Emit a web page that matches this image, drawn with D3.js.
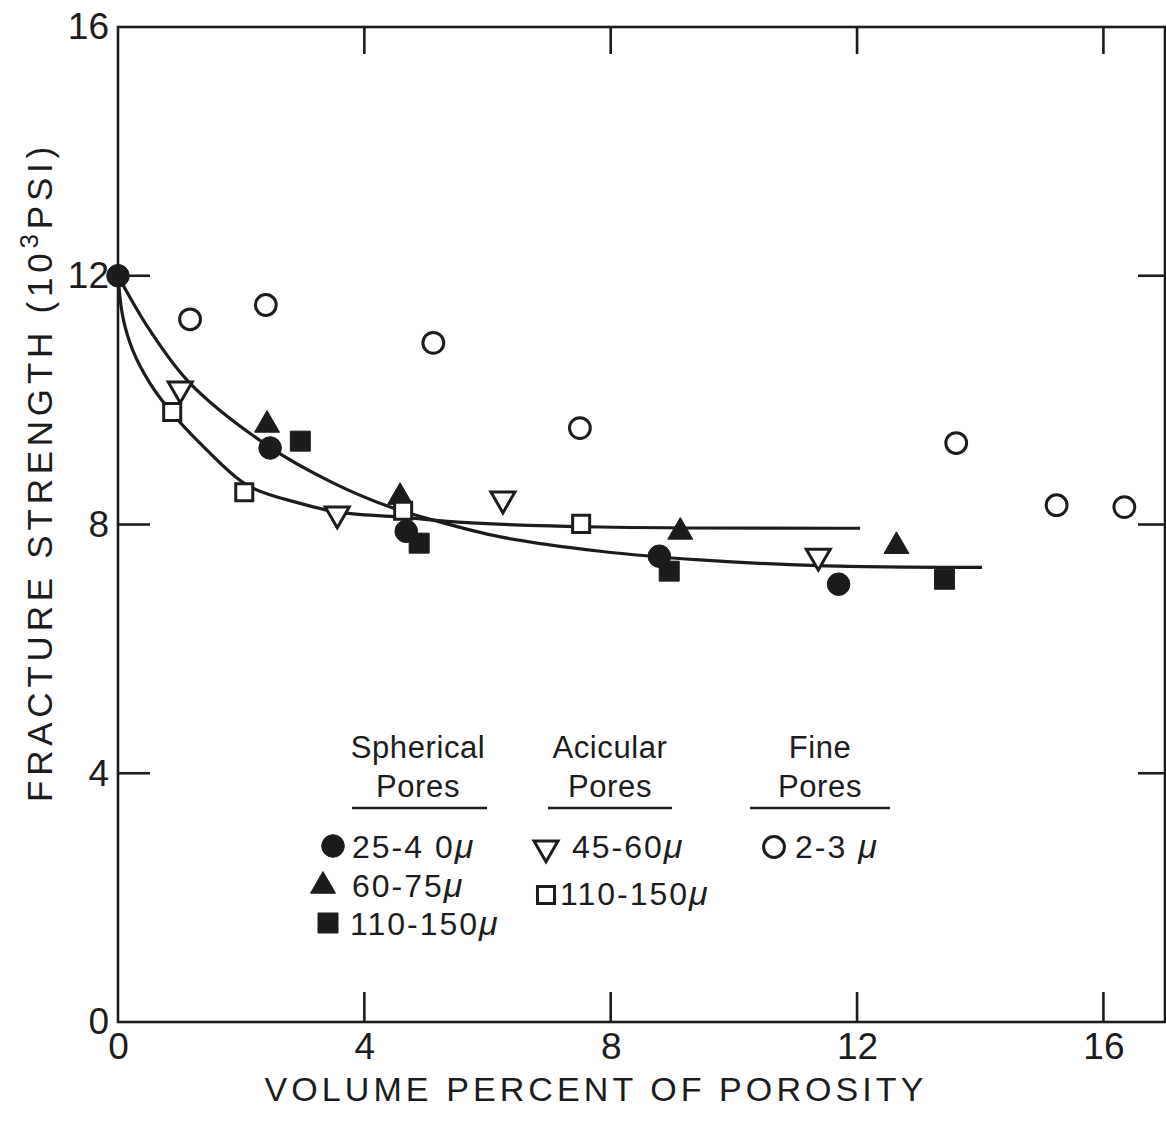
<!DOCTYPE html>
<html>
<head>
<meta charset="utf-8">
<script src="https://cdn.jsdelivr.net/npm/d3@7"></script>
<style>
  body { margin: 0; background: #fff; }
  svg text { font-family: "Liberation Sans", Arial, sans-serif; fill: #1c1c1c; }
</style>
</head>
<body>
<div id="plot"></div>
<script>
  // points: [volume % porosity, strength in 10^3 psi]
  var sph25_40   = [[0, 12], [2.47, 9.23], [4.68, 7.89], [8.79, 7.49], [11.70, 7.04]];
  var sph60_75   = [[2.42, 9.60], [4.58, 8.44], [9.13, 7.88], [12.64, 7.65]];
  var sph110_150 = [[2.96, 9.34], [4.89, 7.70], [8.95, 7.25], [13.42, 7.12]];
  var aci45_60   = [[1.01, 10.18], [3.56, 8.17], [6.25, 8.41], [11.37, 7.49]];
  var aci110_150 = [[0.88, 9.81], [2.05, 8.52], [4.63, 8.22], [7.52, 8.01]];
  var fine2_3    = [[1.17, 11.30], [2.40, 11.53], [5.12, 10.92], [7.50, 9.55], [13.61, 9.31], [15.24, 8.31], [16.34, 8.28]];

  // the two hand drawn fit curves
  var curveSpherical = [[0, 12], [0.5, 11.15], [1.17, 10.27], [2.47, 9.24], [3.49, 8.67], [4.42, 8.28], [5.12, 8.07],
                        [6.21, 7.80], [7.83, 7.57], [9.45, 7.43], [11.37, 7.34], [14.03, 7.31]];
  var curveAcicular  = [[0, 12], [0.08, 11.33], [0.24, 10.8], [0.52, 10.27], [0.88, 9.79], [1.33, 9.31], [2.10, 8.63],
                        [2.96, 8.34], [3.56, 8.20], [4.58, 8.12], [5.67, 8.03], [7.83, 7.96], [12.05, 7.94]];

  var xTicks = [0, 4, 8, 12, 16];
  var yTicks = [0, 4, 8, 12, 16];
  var xInner = [4, 8, 12, 16];
  var yInner = [4, 8, 12];

  var groupTitles = [["Spherical", "Pores"], ["Acicular", "Pores"], ["Fine", "Pores"]];
  var legendLabels = ["25-4 0", "60-75", "110-150", "45-60", "110-150", "2-3 "];

  var ink = "#1c1c1c";
  var W = 1166, H = 1122;
  var pL = 118, pR = 1165, pT = 27, pB = 1022;

  var svg = d3.select("#plot").append("svg")
    .attr("width", W).attr("height", H);

  var x = d3.scaleLinear().domain([0, 17]).range([pL, pR]);
  var y = d3.scaleLinear().domain([0, 16]).range([pB, pT]);

  // frame
  svg.append("rect")
    .attr("x", pL).attr("y", pT)
    .attr("width", pR - pL).attr("height", pB - pT)
    .attr("fill", "none").attr("stroke", ink).attr("stroke-width", 2.6);

  // inward ticks on all four sides
  var ticks = svg.append("g").attr("stroke", ink).attr("stroke-width", 2.6);
  xInner.forEach(function(d) {
    ticks.append("line").attr("x1", x(d)).attr("x2", x(d)).attr("y1", pB).attr("y2", pB - 30);
    ticks.append("line").attr("x1", x(d)).attr("x2", x(d)).attr("y1", pT).attr("y2", pT + 27);
  });
  yInner.forEach(function(d) {
    ticks.append("line").attr("x1", pL).attr("x2", pL + 32).attr("y1", y(d)).attr("y2", y(d));
    ticks.append("line").attr("x1", pR).attr("x2", pR - 27).attr("y1", y(d)).attr("y2", y(d));
  });

  // tick labels via d3 axes (tick lines hidden, frame drawn separately)
  var xAxis = d3.axisBottom(x).tickValues(xTicks).tickSize(0).tickPadding(11).tickFormat(d3.format("d"));
  var yAxis = d3.axisLeft(y).tickValues(yTicks).tickSize(0).tickPadding(9).tickFormat(d3.format("d"));

  var gx = svg.append("g").attr("transform", "translate(0," + pB + ")").call(xAxis);
  var gy = svg.append("g").attr("transform", "translate(" + pL + ",0)").call(yAxis);
  [gx, gy].forEach(function(g) {
    g.select(".domain").remove();
    g.selectAll("text").style("font-size", "37px").style("font-family", '"Liberation Sans", Arial, sans-serif').attr("fill", ink);
  });

  // fit curves
  var line = d3.line()
    .x(function(d) { return x(d[0]); })
    .y(function(d) { return y(d[1]); })
    .curve(d3.curveCatmullRom.alpha(0.5));

  [curveSpherical, curveAcicular].forEach(function(c) {
    svg.append("path").datum(c)
      .attr("d", line)
      .attr("fill", "none").attr("stroke", ink).attr("stroke-width", 3.2);
  });

  // point series
  var series = [
    {data: sph25_40,   type: d3.symbolCircle,   size: 400, fill: true,  rot: 0},
    {data: sph60_75,   type: d3.symbolTriangle, size: 270, fill: true,  rot: 0},
    {data: sph110_150, type: d3.symbolSquare,   size: 400, fill: true,  rot: 0},
    {data: aci45_60,   type: d3.symbolTriangle, size: 250, fill: false, rot: 180},
    {data: aci110_150, type: d3.symbolSquare,   size: 290, fill: false, rot: 0},
    {data: fine2_3,    type: d3.symbolCircle,   size: 340, fill: false, rot: 0}
  ];

  function drawSymbol(g, s, cx, cy) {
    g.append("path")
      .attr("d", d3.symbol().type(s.type).size(s.size)())
      .attr("transform", "translate(" + cx + "," + cy + ") rotate(" + s.rot + ")")
      .attr("fill", s.fill ? ink : "#fff")
      .attr("stroke", ink)
      .attr("stroke-width", s.fill ? 1 : 3);
  }

  series.forEach(function(s) {
    var g = svg.append("g");
    s.data.forEach(function(d) { drawSymbol(g, s, x(d[0]), y(d[1])); });
  });

  // legend
  var legend = svg.append("g");
  var colCenter = [418, 610, 820];
  var ruleX = [[352, 487], [548, 672], [750, 890]];
  groupTitles.forEach(function(t, i) {
    legend.append("text").attr("x", colCenter[i]).attr("y", 758)
      .attr("text-anchor", "middle").style("font-size", "31px").style("letter-spacing", "0.6px").text(t[0]);
    legend.append("text").attr("x", colCenter[i]).attr("y", 797)
      .attr("text-anchor", "middle").style("font-size", "31px").style("letter-spacing", "0.6px").text(t[1]);
    legend.append("line")
      .attr("x1", ruleX[i][0]).attr("x2", ruleX[i][1]).attr("y1", 808).attr("y2", 808)
      .attr("stroke", ink).attr("stroke-width", 2.6);
  });

  var itemPos = [
    {sx: 333, sy: 846, tx: 352, ty: 858},
    {sx: 323, sy: 886, tx: 352, ty: 897},
    {sx: 328, sy: 923, tx: 350, ty: 935},
    {sx: 546, sy: 848, tx: 572, ty: 858},
    {sx: 546, sy: 895, tx: 560, ty: 905},
    {sx: 774, sy: 847, tx: 795, ty: 858}
  ];
  series.forEach(function(s, i) {
    var p = itemPos[i];
    drawSymbol(legend, s, p.sx, p.sy);
    var t = legend.append("text").attr("x", p.tx).attr("y", p.ty)
      .style("font-size", "32px").style("letter-spacing", "2px");
    t.append("tspan").text(legendLabels[i]);
    t.append("tspan").style("font-style", "italic").style("font-size", "34px").text("\u03bc");
  });

  // axis titles, stretched to the width of the original lettering
  function fit(textSel, target) {
    var n = textSel.text().length;
    var w = textSel.node().getComputedTextLength();
    textSel.style("letter-spacing", ((target - w) / n) + "px");
  }

  var xt = svg.append("text")
    .attr("x", 596).attr("y", 1101)
    .attr("text-anchor", "middle")
    .style("font-size", "34px")
    .text("VOLUME PERCENT OF POROSITY");
  fit(xt, 663);

  var yt = svg.append("text")
    .attr("transform", "translate(52,472) rotate(-90)")
    .attr("text-anchor", "middle")
    .style("font-size", "35px");
  yt.append("tspan").text("FRACTURE STRENGTH (10");
  yt.append("tspan").attr("dy", -14).style("font-size", "26px").text("3");
  yt.append("tspan").attr("dy", 14).text("PSI)");
  fit(yt, 660);
</script>
</body>
</html>
